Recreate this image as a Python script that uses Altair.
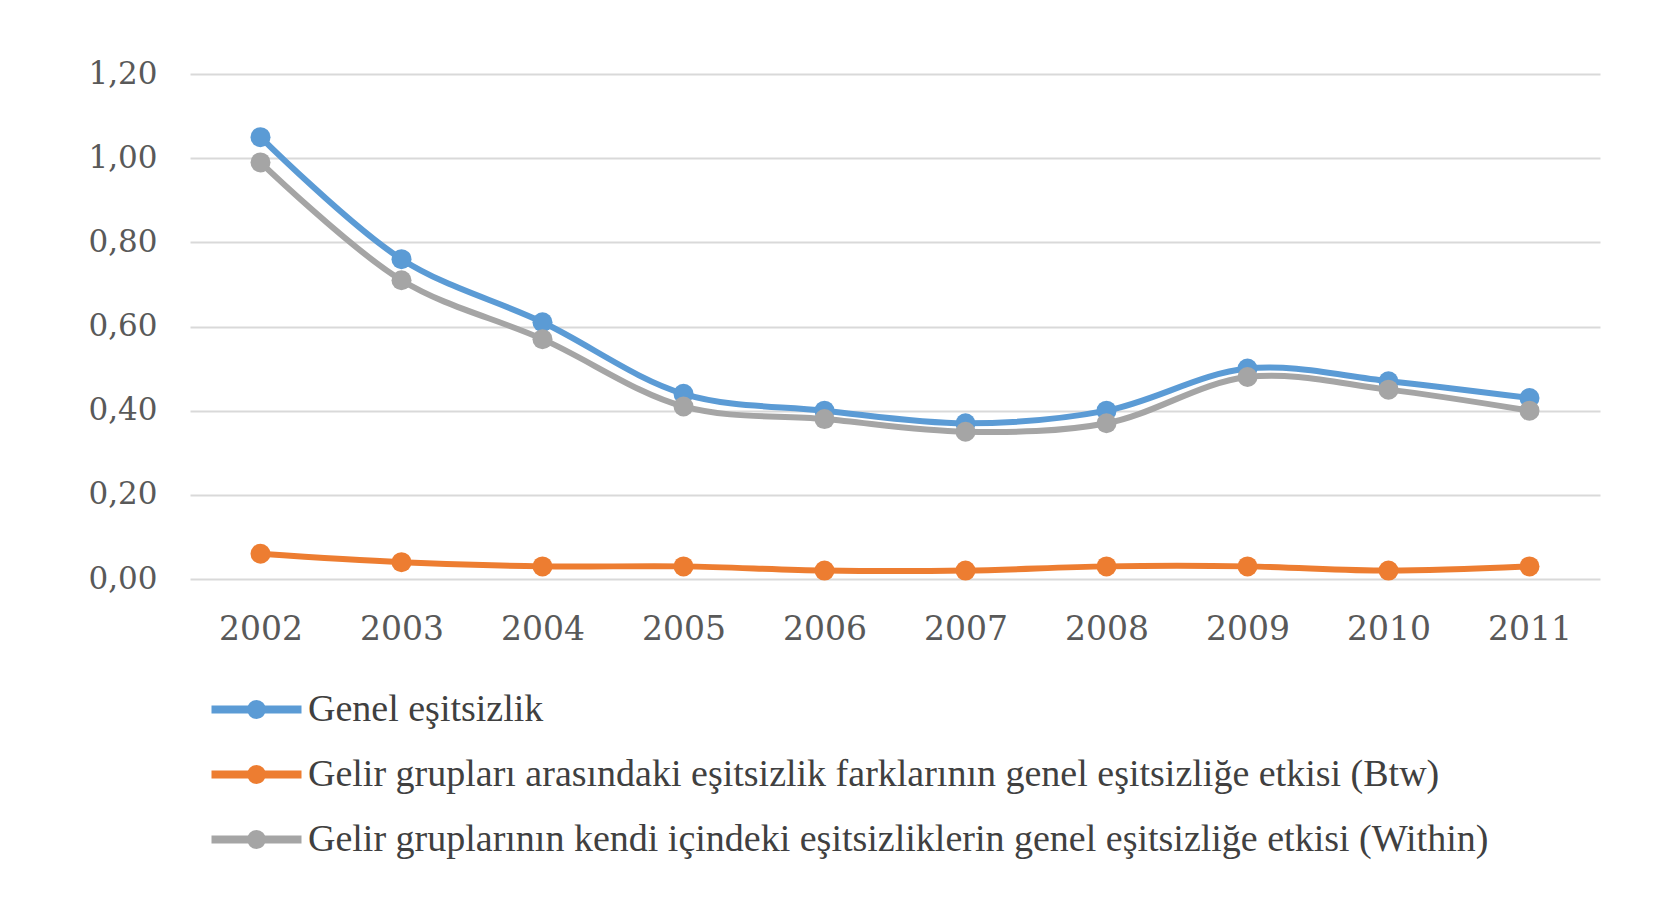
import altair as alt
import pandas as pd

years = ["2002", "2003", "2004", "2005", "2006", "2007", "2008", "2009", "2010", "2011"]
genel = [1.05, 0.76, 0.61, 0.44, 0.40, 0.37, 0.40, 0.50, 0.47, 0.43]
btw = [0.06, 0.04, 0.03, 0.03, 0.02, 0.02, 0.03, 0.03, 0.02, 0.03]
within = [0.99, 0.71, 0.57, 0.41, 0.38, 0.35, 0.37, 0.48, 0.45, 0.40]
series_names = [
    "Genel eşitsizlik",
    "Gelir grupları arasındaki eşitsizlik farklarının genel eşitsizliğe etkisi (Btw)",
    "Gelir gruplarının kendi içindeki eşitsizliklerin genel eşitsizliğe etkisi (Within)",
]
series_colors = ["#5B9BD5", "#ED7D31", "#A5A5A5"]
y_ticks = [0.0, 0.2, 0.4, 0.6, 0.8, 1.0, 1.2]

rows = []
for name, vals, order in [(series_names[0], genel, 0), (series_names[2], within, 1), (series_names[1], btw, 2)]:
    for y, v in zip(years, vals):
        rows.append({"Yıl": y, "Değer": v, "Seri": name, "draw": order})
df = pd.DataFrame(rows)

legend_symbol = "M -2 0 L 2 0 M 0.24 0 A 0.24 0.24 0 1 1 -0.24 0 A 0.24 0.24 0 1 1 0.24 0"

chart = (
    alt.Chart(df)
    .mark_line(
        interpolate="catmull-rom",
        strokeWidth=6,
        point=alt.OverlayMarkDef(size=400, filled=True, opacity=1),
    )
    .encode(
        x=alt.X(
            "Yıl:O",
            sort=years,
            scale=alt.Scale(type="point", padding=0.5),
            axis=alt.Axis(
                title=None,
                labelAngle=0,
                ticks=False,
                domain=False,
                labelPadding=34,
                labelFont="DejaVu Serif",
                labelFontSize=33,
                labelColor="#595959",
            ),
        ),
        y=alt.Y(
            "Değer:Q",
            scale=alt.Scale(domain=[0, 1.2], nice=False),
            axis=alt.Axis(
                title=None,
                values=y_ticks,
                labelExpr="replace(format(datum.value, '.2f'), '.', ',')",
                ticks=False,
                domain=False,
                labelPadding=33,
                labelFont="DejaVu Serif",
                labelFontSize=31,
                labelColor="#595959",
                gridColor="#D9D9D9",
                gridWidth=2,
                minExtent=110,
                maxExtent=110,
            ),
        ),
        color=alt.Color(
            "Seri:N",
            sort=series_names,
            scale=alt.Scale(domain=series_names, range=series_colors),
            legend=alt.Legend(
                title=None,
                orient="none",
                legendX=40,
                legendY=609,
                direction="vertical",
                symbolType=legend_symbol,
                symbolSize=2025,
                symbolStrokeWidth=8,
                symbolOpacity=1,
                labelFont="Liberation Serif",
                labelFontSize=38,
                labelColor="#404040",
                labelLimit=2000,
                labelOffset=25,
                rowPadding=17,
            ),
        ),
        order=alt.Order("draw:Q"),
        detail="Seri:N",
    )
    .properties(
        width=1410,
        height=505,
        padding={"left": 72, "top": 50, "right": 5, "bottom": 5},
        background="white",
    )
    .configure_view(stroke=None)
)

chart.save("out.html", embed_options={"renderer": "svg", "actions": False})
